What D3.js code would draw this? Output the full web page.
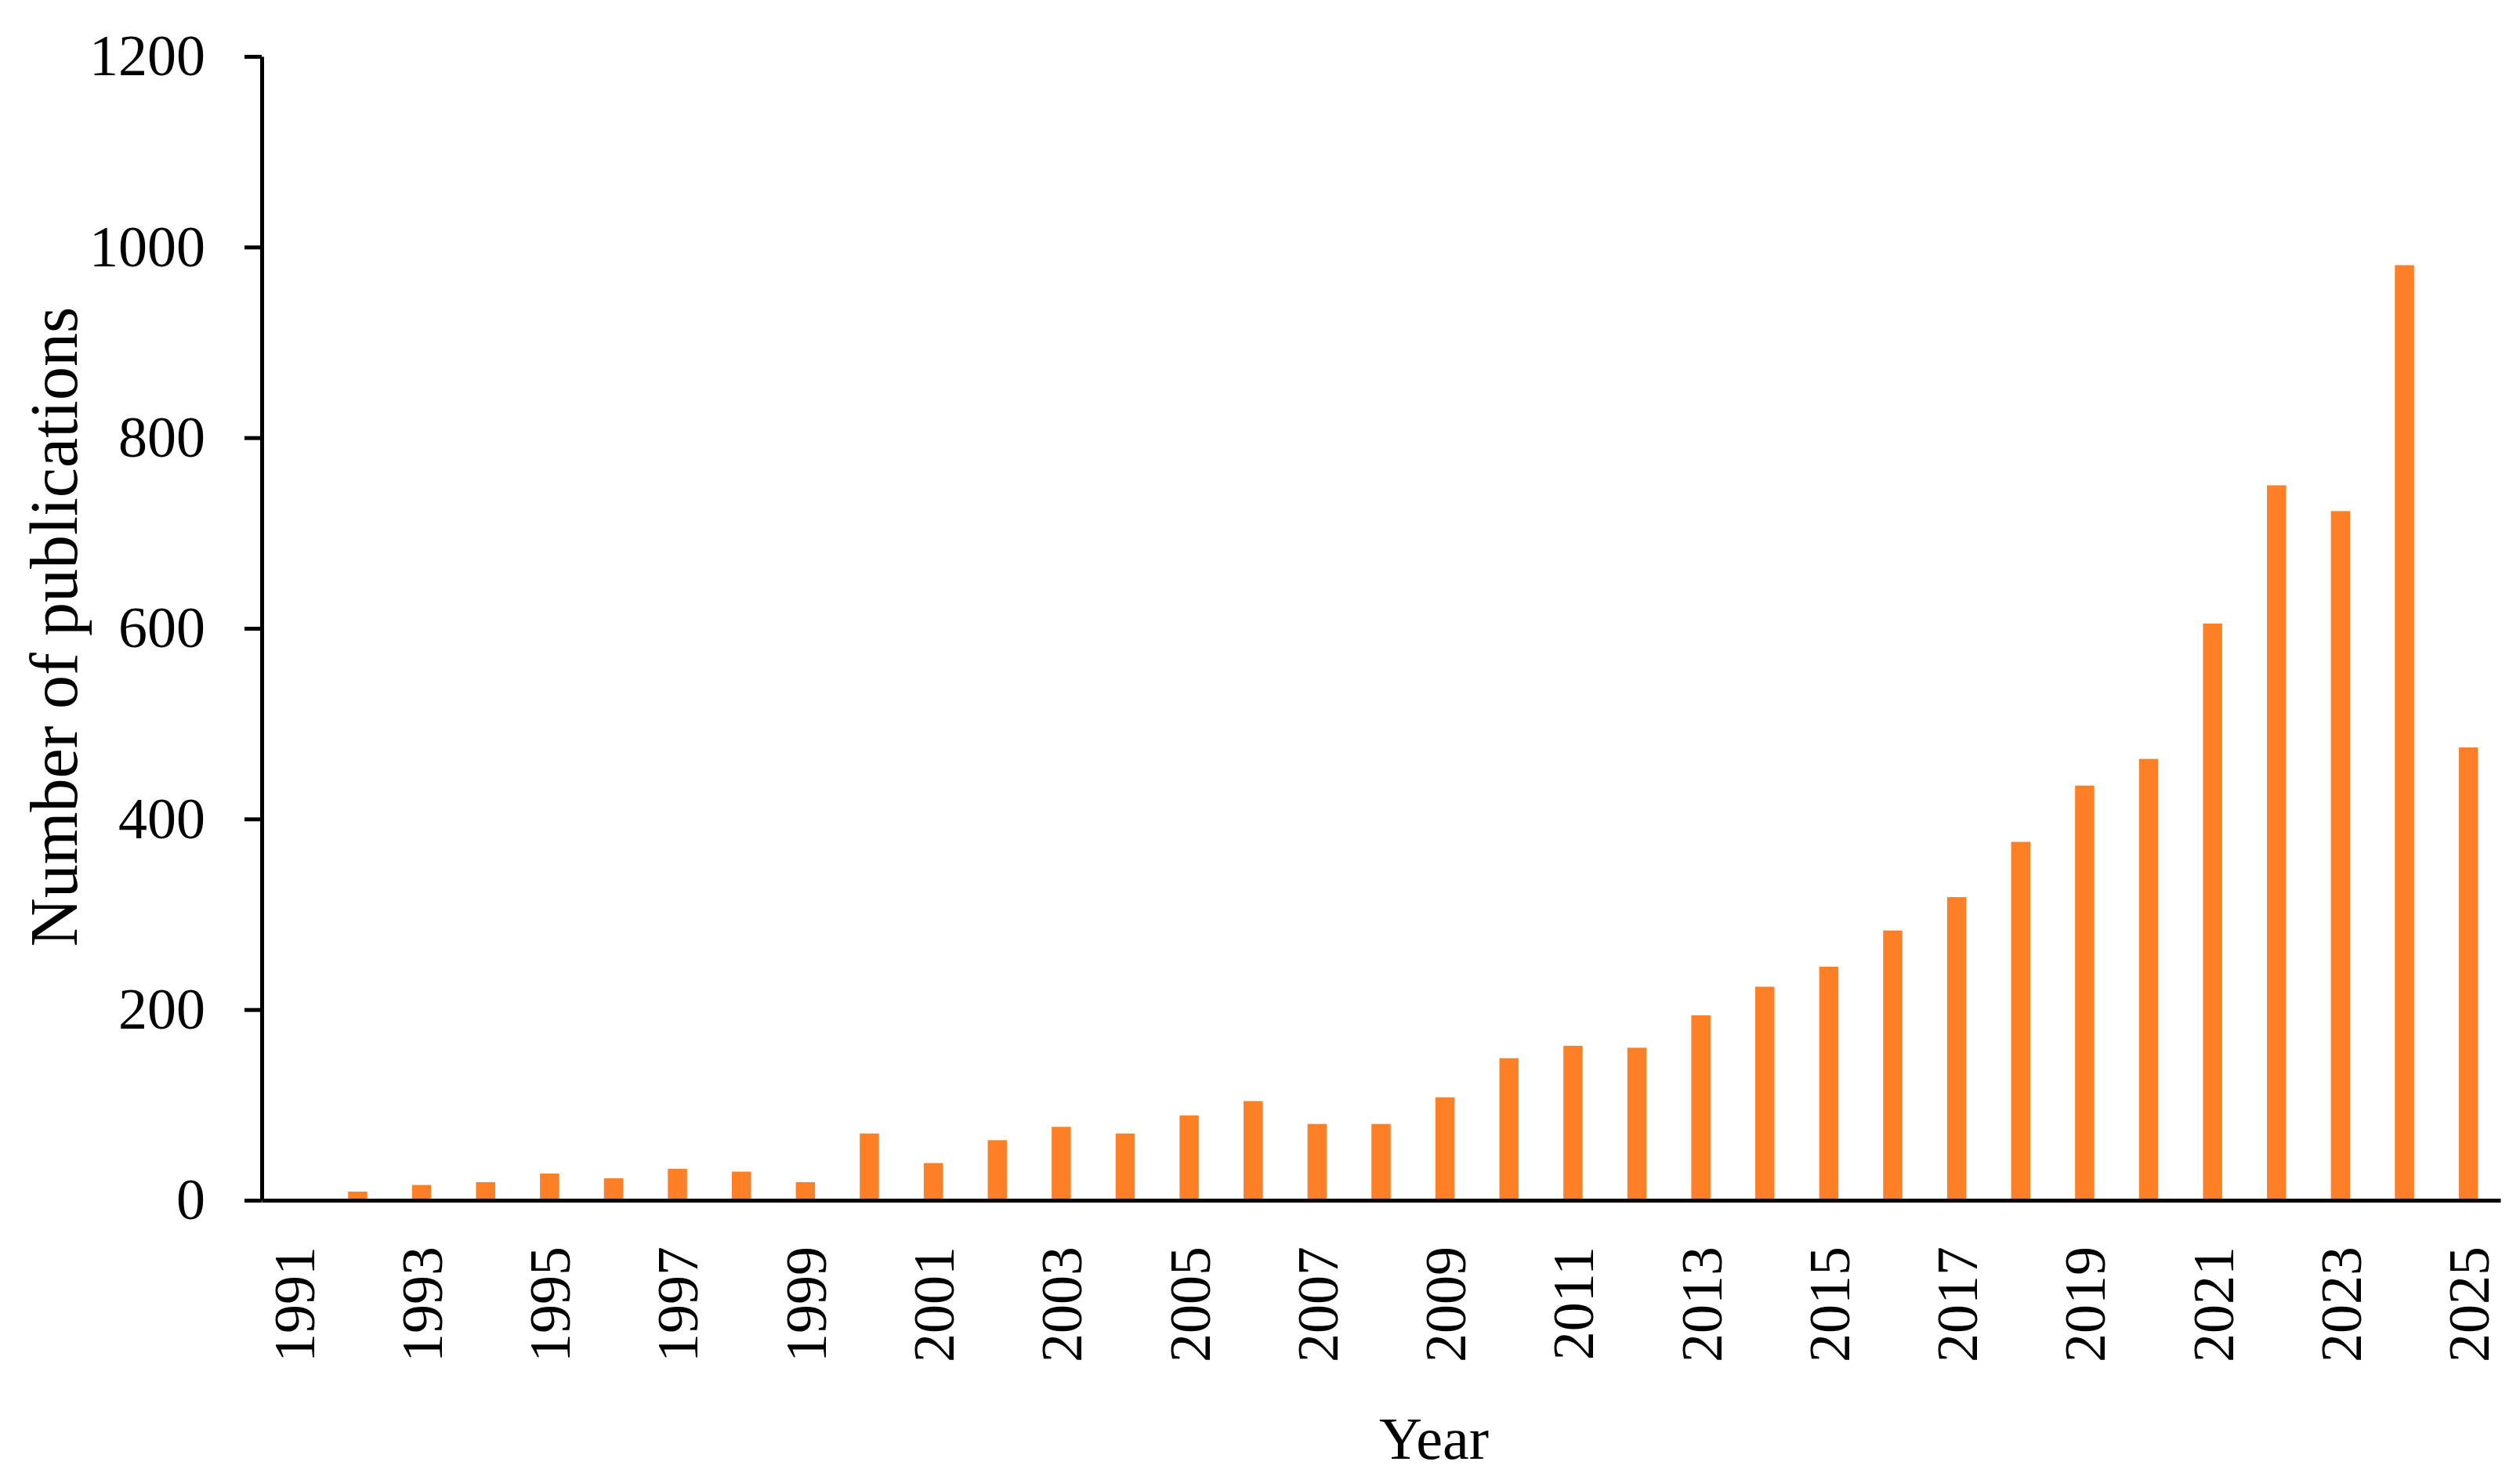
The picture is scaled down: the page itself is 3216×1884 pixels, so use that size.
<!DOCTYPE html>
<html>
<head>
<meta charset="utf-8">
<script src="https://cdn.jsdelivr.net/npm/d3@7"></script>
<style>
  html, body { margin: 0; padding: 0; background: #fff; }
  svg { display: block; }
  text { font-family: 'Liberation Serif', 'Times New Roman', serif; fill: #000; }
</style>
</head>
<body>
<svg></svg>
<script>
const years = [
  1991, 1992, 1993, 1994, 1995, 1996, 1997, 1998, 1999, 2000,
  2001, 2002, 2003, 2004, 2005, 2006, 2007, 2008, 2009, 2010,
  2011, 2012, 2013, 2014, 2015, 2016, 2017, 2018, 2019, 2020,
  2021, 2022, 2023, 2024, 2025
];
const publications = [
  1, 9, 16, 19, 28, 23, 33, 30, 19, 70,
  39, 63, 77, 70, 89, 104, 80, 80, 108, 149,
  162, 160, 194, 224, 245, 283, 318, 376, 435, 463,
  605, 750, 723, 981, 475
];
const yTicks = [0, 200, 400, 600, 800, 1000, 1200];
const xTickYears = years.filter((y, i) => i % 2 === 0);

const width = 3216;
const height = 1884;
const margin = { top: 72, right: 25, bottom: 352, left: 334 };
const graphWidth = width - margin.left - margin.right;
const graphHeight = height - margin.top - margin.bottom;

const svg = d3.select('svg').attr('width', width).attr('height', height);

const xScale = d3
  .scaleBand()
  .domain(years)
  .range([0, graphWidth])
  .paddingInner(0.7)
  .paddingOuter(0.35);

const yScale = d3
  .scaleLinear()
  .domain([0, 1200])
  .range([graphHeight, 0]);

const graph = svg
  .append('g')
  .attr('transform', `translate(${margin.left}, ${margin.top})`);

// bars
graph
  .selectAll('rect.bar')
  .data(years)
  .enter()
  .append('rect')
  .attr('class', 'bar')
  .attr('x', d => xScale(d))
  .attr('width', xScale.bandwidth())
  .attr('y', (d, i) => yScale(publications[i]))
  .attr('height', (d, i) => graphHeight - yScale(publications[i]))
  .attr('fill', '#ff7f27');

// y axis
const yAxis = d3
  .axisLeft(yScale)
  .tickValues(yTicks)
  .tickSize(22)
  .tickSizeOuter(0)
  .tickPadding(50)
  .tickFormat(d3.format('d'));

const yG = graph.append('g').call(yAxis);
yG.select('.domain').attr('stroke', '#000').attr('stroke-width', 5);
yG.selectAll('.tick line').attr('stroke', '#000').attr('stroke-width', 5);
yG.selectAll('.tick text')
  .attr('font-size', 74)
  .attr('font-family', "'Liberation Serif', serif")
  .attr('fill', '#000');

// x axis
const xAxis = d3
  .axisBottom(xScale)
  .tickValues(xTickYears)
  .tickSize(0)
  .tickSizeOuter(0);

const xG = graph
  .append('g')
  .attr('transform', `translate(0, ${graphHeight})`)
  .call(xAxis);
xG.select('.domain').attr('stroke', '#000').attr('stroke-width', 5);
xG.selectAll('.tick text')
  .attr('font-size', 74)
  .attr('font-family', "'Liberation Serif', serif")
  .attr('fill', '#000')
  .attr('text-anchor', 'end')
  .attr('transform', 'rotate(-90)')
  .attr('x', -59)
  .attr('y', 0)
  .attr('dy', '0.35em');

// axis titles
svg
  .append('text')
  .text('Year')
  .attr('x', 1830)
  .attr('y', 1862)
  .attr('text-anchor', 'middle')
  .attr('font-size', 76);

svg
  .append('text')
  .text('Number of publications')
  .attr('transform', 'translate(98, 800) rotate(-90)')
  .attr('text-anchor', 'middle')
  .attr('font-size', 86);
</script>
</body>
</html>
